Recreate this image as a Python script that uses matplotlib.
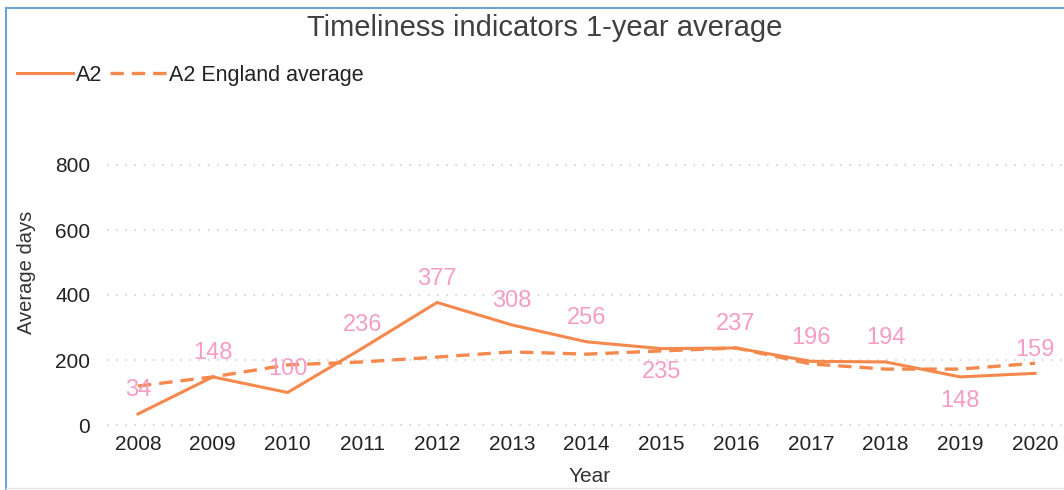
import matplotlib
matplotlib.use("Agg")
import matplotlib.pyplot as plt
from matplotlib.lines import Line2D

plt.rcParams['font.family'] = ['Liberation Sans', 'DejaVu Sans']

# data
years = [2008, 2009, 2010, 2011, 2012, 2013, 2014, 2015, 2016, 2017, 2018, 2019, 2020]
a2 = [34, 148, 100, 236, 377, 308, 256, 235, 237, 196, 194, 148, 159]
england_avg = [120, 148, 185, 194, 209, 225, 218, 228, 237, 188, 172, 172, 190]
label_below = [2015, 2019]   # labels drawn under the point
y_ticks = [0, 200, 400, 600, 800]

W, H = 1064, 490
line_col = '#F5884C'
label_col = '#F59DC6'
text_col = '#404040'

fig = plt.figure(figsize=(W / 100, H / 100), dpi=100)

# axes placement in pixels
left, right, top, bottom = 107, 1062, 161.75, 428.25
ax = fig.add_axes([left / W, 1 - bottom / H, (right - left) / W, (bottom - top) / H])
ax.set_xlim(2007.585, 2020.36)
ax.set_ylim(-10, 810)

ax.plot(years, a2, color=line_col, lw=2.2, solid_joinstyle='round', zorder=3)
ax.plot(years, england_avg, color=line_col, lw=2.4, dashes=(4, 2.4), zorder=2)

for yr, v in zip(years, a2):
    off = -17 if yr in label_below else 17
    ax.annotate(str(v), (yr, v), xytext=(0, off), textcoords='offset points',
                ha='center', va='center', color=label_col, fontsize=17, zorder=4)

ax.set_xticks(years)
ax.set_xticklabels([str(y) for y in years])
ax.set_yticks(y_ticks)
ax.tick_params(axis='both', length=0, labelsize=15, colors='#222222')
ax.tick_params(axis='y', pad=12)
ax.tick_params(axis='x', pad=5)
ax.grid(axis='y', color='#c8c8c8', lw=1.1, linestyle=(0, (1, 5)))
ax.set_axisbelow(True)
for s in ax.spines.values():
    s.set_visible(False)

# titles and axis labels
fig.text(545 / W, 1 - 36 / H, 'Timeliness indicators 1-year average', ha='center',
         va='baseline', fontsize=21, color=text_col)
fig.text(26 / W, 1 - 272 / H, 'Average days', rotation=90, ha='center', va='center',
         fontsize=14.5, color='#333333')
fig.text(590 / W, 1 - 482 / H, 'Year', ha='center', va='baseline', fontsize=15,
         color='#333333')

# legend
handles = [Line2D([], [], color=line_col, lw=2.2),
           Line2D([], [], color=line_col, lw=2.4, dashes=(4, 2.4))]
fig.legend(handles, ['A2', 'A2 England average'], loc='center left',
           bbox_to_anchor=(17 / W, 1 - 75 / H), ncol=2, frameon=False,
           borderpad=0, borderaxespad=0,
           fontsize=15.5, handlelength=2.6, handletextpad=0.15, columnspacing=0.35,
           labelcolor='#222222')

# frame around the visual
fig.add_artist(Line2D([6 / W, 6 / W], [1 - 8 / H, 0], color='#6FA3D8', lw=1.5))
fig.add_artist(Line2D([6 / W, 1], [1 - 8 / H, 1 - 8 / H], color='#6FA3D8', lw=1.5))
fig.add_artist(Line2D([6 / W, 1], [1 - 488 / H, 1 - 488 / H], color='#e6e6e6', lw=1))

fig.savefig('out.png', dpi=100)
